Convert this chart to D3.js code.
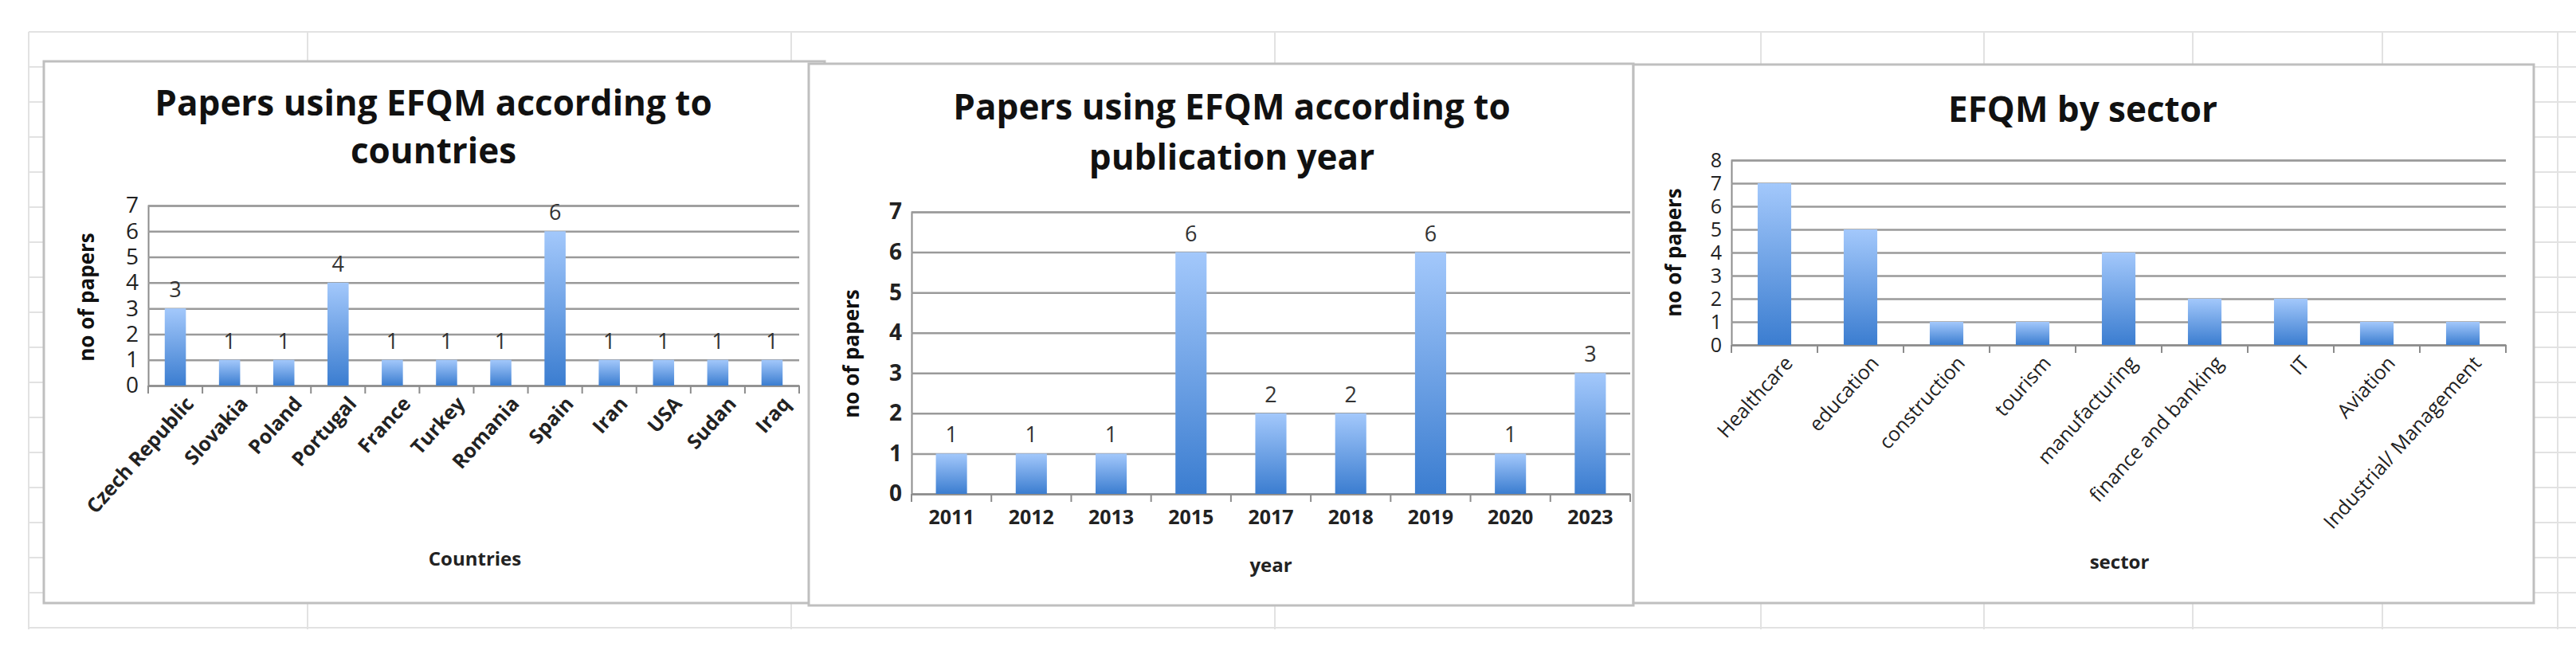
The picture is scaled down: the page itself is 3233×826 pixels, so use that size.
<!DOCTYPE html>
<html><head><meta charset="utf-8">
<script src="https://cdn.jsdelivr.net/npm/d3@7"></script>
<style>body{margin:0;background:#fff;font-family:"Open Sans",Calibri,sans-serif}</style>
</head><body><svg id="c" width="3233" height="826"></svg>
<script>
const countries = ["Czech Republic","Slovakia","Poland","Portugal","France","Turkey","Romania","Spain","Iran","USA","Sudan","Iraq"];
const countryPapers = [3,1,1,4,1,1,1,6,1,1,1,1];
const years = ["2011","2012","2013","2015","2017","2018","2019","2020","2023"];
const yearPapers = [1,1,1,6,2,2,6,1,3];
const sectors = ["Healthcare","education","construction","tourism","manufacturing","finance and banking","IT","Aviation","Industrial/ Management"];
const sectorPapers = [7,5,1,1,4,2,2,1,1];

const svg = d3.select("#c");
const defs = svg.append("defs");
const grad = defs.append("linearGradient").attr("id","bar").attr("x1",0).attr("y1",0).attr("x2",0).attr("y2",1);
grad.append("stop").attr("offset","0%").attr("stop-color","#a3c8fb");
grad.append("stop").attr("offset","100%").attr("stop-color","#3b7dd0");

// spreadsheet background grid
const bg = svg.append("g").attr("stroke","#e2e2e2").attr("stroke-width",2);
d3.range(40, 826, 44).forEach(y => bg.append("line").attr("x1",36).attr("x2",3233).attr("y1",y).attr("y2",y));
[36,386,993,1600,2210,2490,2752,2990,3210].forEach(x => bg.append("line").attr("x1",x).attr("x2",x).attr("y1",40).attr("y2",790));

function chart(o) {
  const g = svg.append("g");
  g.append("rect").attr("x",o.box[0]).attr("y",o.box[1]).attr("width",o.box[2]-o.box[0]).attr("height",o.box[3]-o.box[1])
    .attr("fill","#fff").attr("stroke","#bfbfbf").attr("stroke-width",3);
  o.title.forEach((t,i) => g.append("text").attr("x",o.titleX).attr("y",o.titleY[i]).attr("text-anchor","middle")
    .attr("font-size",44).attr("font-weight","bold").attr("fill","#111").text(t));
  const x = d3.scaleBand().domain(o.cats).range([o.left,o.right]).paddingInner(0.61).paddingOuter(0.305);
  const y = d3.scaleLinear().domain([0,o.max]).range([o.bottom,o.top]);
  const gy = g.append("g").attr("transform",`translate(${o.left},0)`)
    .call(d3.axisLeft(y).ticks(o.max).tickSize(-(o.right-o.left)).tickPadding(12).tickFormat(d3.format("d")));
  gy.select(".domain").attr("stroke","#8c8c8c").attr("stroke-width",2);
  gy.selectAll(".tick line").attr("stroke","#9a9a9a").attr("stroke-width",2.5);
  gy.selectAll(".tick text").attr("font-size",o.tickSize).attr("fill","#222").attr("font-weight",o.boldY?"bold":"normal")
    .attr("font-family","Open Sans");
  const step = x.step();
  const gx = g.append("g").attr("transform",`translate(0,${o.bottom})`)
    .call(d3.axisBottom(x).tickSize(0).tickPadding(0));
  gx.select(".domain").attr("stroke","#8c8c8c").attr("stroke-width",2);
  o.cats.forEach((c,i) => g.append("line").attr("x1",o.left+i*step).attr("x2",o.left+i*step)
    .attr("y1",o.bottom).attr("y2",o.bottom+10).attr("stroke","#8c8c8c").attr("stroke-width",2));
  g.append("line").attr("x1",o.right).attr("x2",o.right).attr("y1",o.bottom).attr("y2",o.bottom+10).attr("stroke","#8c8c8c").attr("stroke-width",2);
  const lbl = gx.selectAll(".tick text").attr("font-family","Open Sans").attr("fill","#222")
    .attr("font-size",o.catSize).attr("font-weight",o.boldX?"bold":"normal");
  if (o.rotate) lbl.attr("text-anchor","end").attr("transform","translate(18,18) rotate(-48)").attr("dy","0.35em");
  else lbl.attr("dy","1.5em");
  g.selectAll(".bar").data(o.vals).enter().append("rect")
    .attr("x",(d,i)=>x(o.cats[i])).attr("width",x.bandwidth())
    .attr("y",d=>y(d)).attr("height",d=>o.bottom-y(d)).attr("fill","url(#bar)");
  if (o.labels) g.selectAll(".vl").data(o.vals).enter().append("text")
    .attr("x",(d,i)=>x(o.cats[i])+x.bandwidth()/2).attr("y",d=>y(d)-14).attr("text-anchor","middle")
    .attr("font-size",27).attr("fill","#333").text(d=>d);
  g.append("text").attr("x",o.xl[0]).attr("y",o.xl[1]).attr("text-anchor","middle").attr("font-size",24)
    .attr("font-weight","bold").attr("fill","#222").text(o.xlabel);
  g.append("text").attr("transform",`translate(${o.yl[0]},${o.yl[1]}) rotate(-90)`).attr("text-anchor","middle")
    .attr("font-size",26).attr("font-weight","bold").attr("fill","#111").text("no of papers");
}

chart({box:[55,77,1035,757], title:["Papers using EFQM according to","countries"],titleX:544,
  titleY:[145,205], cats:countries, vals:countryPapers, max:7, left:186, right:1003, top:258, bottom:484,
  labels:true, rotate:true, boldX:true, catSize:25, tickSize:28, xlabel:"Countries", xl:[596,710], yl:[118,373]});
chart({box:[1015,80,2050,760], title:["Papers using EFQM according to","publication year"], titleX:1546,
  titleY:[150,213], cats:years, vals:yearPapers, max:7, left:1144, right:2046, top:266, bottom:620,
  labels:true, rotate:false, boldX:true, boldY:true, catSize:25, tickSize:28, xlabel:"year", xl:[1595,718], yl:[1078,444]});
chart({box:[2050,81,3180,757], title:["EFQM by sector"], titleX:2614, titleY:[153], cats:sectors, vals:sectorPapers,
  max:8, left:2173, right:3145, top:201, bottom:433, labels:false, rotate:true, boldX:false, catSize:25, tickSize:25,
  xlabel:"sector", xl:[2660,714], yl:[2110,317]});
</script></body></html>
